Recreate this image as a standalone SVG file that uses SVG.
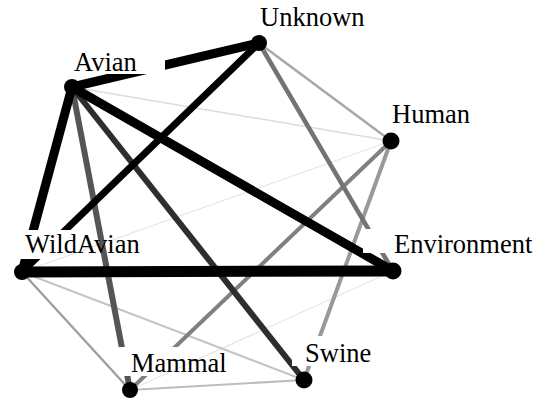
<svg xmlns="http://www.w3.org/2000/svg" width="548" height="400" viewBox="0 0 548 400">
<style>
.lbl{font-family:"Liberation Serif",Tinos,"Times New Roman",Times,"DejaVu Serif",serif;font-size:26.5px;fill:#000}
.nd{fill:#000}
#connectors line{stroke-linecap:butt;fill:none}
</style>
<defs>
<mask id="mAvian" maskUnits="userSpaceOnUse" x="0" y="0" width="548" height="400"><rect width="548" height="400" fill="#fff"/><rect x="46" y="46" width="119" height="28" fill="#000"/></mask>
<mask id="mWild" maskUnits="userSpaceOnUse" x="0" y="0" width="548" height="400"><rect width="548" height="400" fill="#fff"/><rect x="0" y="230" width="150" height="29" fill="#000"/></mask>
<mask id="mEnv" maskUnits="userSpaceOnUse" x="0" y="0" width="548" height="400"><rect width="548" height="400" fill="#fff"/><rect x="363" y="229" width="185" height="24" fill="#000"/></mask>
<mask id="mMammal" maskUnits="userSpaceOnUse" x="0" y="0" width="548" height="400"><rect width="548" height="400" fill="#fff"/><rect x="119" y="347" width="126" height="29" fill="#000"/></mask>
<mask id="mSwine" maskUnits="userSpaceOnUse" x="0" y="0" width="548" height="400"><rect width="548" height="400" fill="#fff"/><rect x="292" y="336" width="88" height="30" fill="#000"/></mask>
</defs>
<rect width="548" height="400" fill="#fff"/>
<g id="connectors">
<line x1="22" y1="272" x2="391" y2="141" stroke="#e6e6e6" stroke-width="1.2"/>
<line x1="130" y1="390" x2="393" y2="271" stroke="#e6e6e6" stroke-width="1.2"/>
<line x1="72" y1="87" x2="391" y2="141" stroke="#dcdcdc" stroke-width="1.5"/>
<line x1="22" y1="272" x2="304" y2="380" stroke="#c4c4c4" stroke-width="2"/>
<line x1="130" y1="390" x2="304" y2="380" stroke="#bdbdbd" stroke-width="2"/>
<line x1="22" y1="272" x2="130" y2="390" stroke="#a0a0a0" stroke-width="2.5" mask="url(#mMammal)"/>
<line x1="259" y1="43" x2="391" y2="141" stroke="#a8a8a8" stroke-width="2.5"/>
<line x1="391" y1="141" x2="304" y2="380" stroke="#999" stroke-width="4" mask="url(#mSwine)"/>
<line x1="391" y1="141" x2="130" y2="390" stroke="#808080" stroke-width="4" mask="url(#mMammal)"/>
<line x1="259" y1="43" x2="393" y2="271" stroke="#737373" stroke-width="4.5" mask="url(#mEnv)"/>
<line x1="72" y1="87" x2="130" y2="390" stroke="#555" stroke-width="6" mask="url(#mMammal)"/>
<line x1="72" y1="87" x2="304" y2="380" stroke="#2e2e2e" stroke-width="6" mask="url(#mSwine)"/>
<line x1="259" y1="43" x2="22" y2="272" stroke="#000" stroke-width="7" mask="url(#mWild)"/>
<line x1="72" y1="87" x2="393" y2="271" stroke="#000" stroke-width="9" mask="url(#mEnv)"/>
<line x1="72" y1="87" x2="22" y2="272" stroke="#000" stroke-width="9" mask="url(#mWild)"/>
<line x1="72" y1="87" x2="259" y2="43" stroke="#000" stroke-width="9" mask="url(#mAvian)"/>
<line x1="22" y1="272" x2="393" y2="271" stroke="#000" stroke-width="11"/>
</g>
<g id="node-Unknown"><circle class="nd" cx="259" cy="43" r="8"/><text class="lbl" x="260" y="26">Unknown</text></g>
<g id="node-Avian"><circle class="nd" cx="72" cy="87" r="8"/><text class="lbl" x="74" y="71">Avian</text></g>
<g id="node-Human"><circle class="nd" cx="391" cy="141" r="8.5"/><text class="lbl" x="392" y="123">Human</text></g>
<g id="node-WildAvian"><circle class="nd" cx="22" cy="272" r="8"/><text class="lbl" x="25" y="253">WildAvian</text></g>
<g id="node-Environment"><circle class="nd" cx="393" cy="271" r="8.5"/><text class="lbl" x="394" y="253">Environment</text></g>
<g id="node-Mammal"><circle class="nd" cx="130" cy="390" r="8"/><text class="lbl" x="131" y="372">Mammal</text></g>
<g id="node-Swine"><circle class="nd" cx="304" cy="380" r="8.5"/><text class="lbl" x="305" y="362">Swine</text></g>
</svg>
